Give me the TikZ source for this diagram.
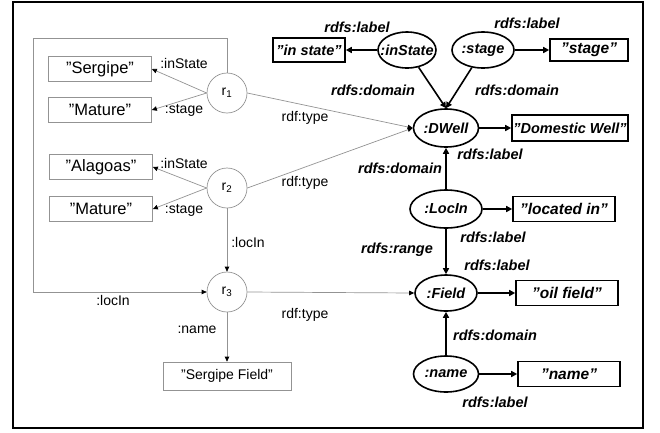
\documentclass[tikz,border=0pt]{standalone}
\usepackage{fontspec}
\setmainfont{Liberation Sans}
\usetikzlibrary{positioning, arrows.meta, shapes.geometric}

\begin{document}
\begin{tikzpicture}[
    x=1pt, y=-1pt,
    on grid,
    font=\fontsize{14}{16}\selectfont,
    res/.style={circle, draw=gray!85, line width=0.7pt, minimum size=40pt, inner sep=0pt},
    lit/.style={draw=gray!85, line width=0.7pt, minimum width=103pt, minimum height=25pt, inner sep=0pt,
                font=\fontsize{16.5}{18}\selectfont},
    cls/.style={ellipse, draw, line width=1.6pt, inner xsep=-12pt, inner ysep=0pt,
                minimum width=65pt, minimum height=38pt, font=\fontsize{14.5}{16}\selectfont\bfseries\itshape},
    lbl/.style={draw, line width=1.6pt, minimum width=102pt, minimum height=25pt, inner sep=0pt,
                font=\fontsize{15.5}{17}\selectfont\bfseries\itshape},
    elabel/.style={inner sep=0pt},
    plabel/.style={inner sep=0pt, font=\fontsize{14.5}{16}\selectfont\bfseries\itshape},
    link/.style={draw=gray!85, line width=0.7pt, -{Triangle[length=5pt, width=4.5pt, color=black]}},
    axiom/.style={line width=1.6pt, -{Triangle[length=6pt, width=6pt]}},
]
\useasboundingbox (0,0) rectangle (660,432);
\draw[line width=1.5pt] (13,2) rectangle (643,428);

% instance data
\node[res] (r1) at (227,93) {r\textsubscript{1}};
\node[res, below=95pt of r1] (r2) {r\textsubscript{2}};
\node[res, below=104pt of r2] (r3) {r\textsubscript{3}};
\node[lit, minimum width=128pt, minimum height=28pt, font=\fontsize{14}{16}\selectfont, below=84pt of r3] (sfield) {"Sergipe Field"};
\node[lit, above left=24pt and 127pt of r1] (sergipe) {"Sergipe"};
\node[lit, below left=17pt and 127pt of r1] (mature1) {"Mature"};
\node[lit, above left=21pt and 126pt of r2] (alagoas) {"Alagoas"};
\node[lit, below left=21pt and 126pt of r2] (mature2) {"Mature"};
\coordinate (loop) at (33,38);

% ontology
\node[cls] (dwell) at (446,128) {:DWell};
\node[cls, minimum width=58pt, minimum height=36pt, above left=78pt and 39pt of dwell] (instate) {:inState};
\node[cls, minimum width=62pt, minimum height=36pt, above right=78pt and 37pt of dwell] (stage) {:stage};
\node[cls, minimum width=72pt, below=81pt of dwell] (locin) {:LocIn};
\node[cls, minimum width=62pt, minimum height=36pt, below=84pt of locin] (field) {:Field};
\node[cls, minimum height=36pt, below=81pt of field] (name) {:name};
\node[lbl, minimum width=72pt, minimum height=24pt, font=\fontsize{14.5}{16}\selectfont\bfseries\itshape,
      left=98pt of instate] (instatebox) {”in state”};
\node[lbl, minimum width=78pt, minimum height=22pt, right=106pt of stage] (stagebox) {”stage”};
\node[lbl, minimum width=116pt, minimum height=26pt, font=\fontsize{14.5}{16}\selectfont\bfseries\itshape,
      right=124pt of dwell] (dwbox) {”Domestic Well”};
\node[lbl, right=118pt of locin] (locbox) {”located in”};
\node[lbl, right=121pt of field] (oilbox) {”oil field”};
\node[lbl, right=123pt of name] (namebox) {”name”};

% edges of the data
\foreach \a/\b in {r1.west/sergipe.east, r1.west/mature1.east, r2.west/alagoas.east, r2.west/mature2.east,
                   r1.east/dwell.west, r2.east/dwell.west, r3.east/field.west, r2/r3, r3/sfield}{
    \draw[link] (\a) -- (\b);
}
\draw[link] (r1.north) |- (loop) |- (r3.west);

% edges of the ontology
\foreach \a/\b in {instate/instatebox, stage/stagebox, instate/dwell.north, stage/dwell.north, dwell/dwbox,
                   locin/dwell, locin/field, locin/locbox, field/oilbox, name/field, name/namebox}{
    \draw[axiom] (\a) -- (\b);
}

% property names
\node[elabel] (l1) at (184,63) {:inState};
\node[elabel] (l2) at (184,110) {:stage};
\node[elabel] (l3) at (184,163) {:inState};
\node[elabel] (l4) at (184,210) {:stage};
\node[elabel] (l5) at (305,118) {rdf:type};
\node[elabel] (l6) at (305,183) {rdf:type};
\node[elabel] (l7) at (305,315) {rdf:type};
\node[elabel] (l8) at (248,242) {:locIn};
\node[elabel] (l9) at (113,300) {:locIn};
\node[elabel] (l10) at (197,330) {:name};

\node[plabel] (p1) at (357,27) {rdfs:label};
\node[plabel] (p2) at (527,23) {rdfs:label};
\node[plabel] (p3) at (373,90) {rdfs:domain};
\node[plabel] (p4) at (517,90) {rdfs:domain};
\node[plabel] (p5) at (490,154) {rdfs:label};
\node[plabel] (p6) at (400,168) {rdfs:domain};
\node[plabel] (p7) at (493,237) {rdfs:label};
\node[plabel] (p8) at (397,250) {rdfs:range};
\node[plabel] (p9) at (497,265) {rdfs:label};
\node[plabel] (p10) at (495,335) {rdfs:domain};
\node[plabel] (p11) at (495,402) {rdfs:label};

\end{tikzpicture}
\end{document}
